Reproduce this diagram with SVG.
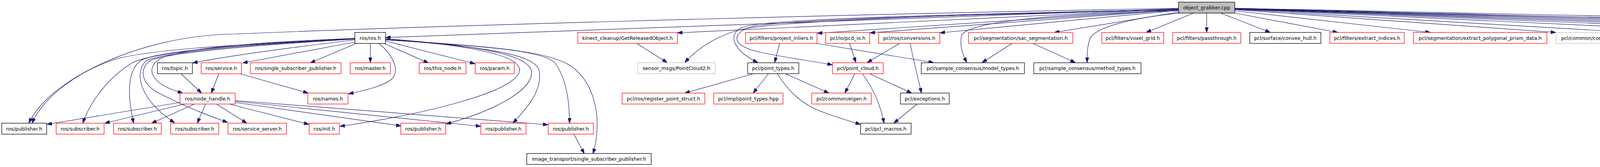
<svg xmlns="http://www.w3.org/2000/svg" width="5885" height="427" viewBox="0 0 5885 427">
<style>
.e{fill:none;stroke:#191970;stroke-width:1.2;marker-end:url(#a)}
.n rect{fill:#ffffff;stroke-width:1.3}
.r rect{stroke:#ff0000}
.k rect{stroke:#000000}
.g rect{stroke:#bfbfbf}
.root rect{fill:#bfbfbf;stroke:#000000}
text{font-family:"DejaVu Sans","Liberation Sans",sans-serif;font-size:12.6px;fill:#000000;text-anchor:middle}
</style>
<defs>
<marker id="a" markerWidth="13" markerHeight="9" refX="13" refY="4.5" orient="auto" markerUnits="userSpaceOnUse"><path d="M0,0 L13,4.5 L0,9 z" fill="#191970" stroke="#191970" stroke-width="1"/></marker>
</defs>
<rect x="0" y="0" width="5885" height="427" fill="#ffffff"/>
<g id="edges">
<path class="e" d="M3017,21 C2000,40 1000,70 600,87 C350,90 120,210 74,315"/>
<path class="e" d="M3017,22 L987,96"/>
<path class="e" d="M3017,23 L1734,84"/>
<path class="e" d="M3017,23.5 C2400,38 1950,55 1880,80 C1820,100 1780,130 1753,160"/>
<path class="e" d="M3017,24 C2300,40 1950,50 1900,70 C1865,85 1870,125 1940,160"/>
<path class="e" d="M3017,25 C2300,42 1960,52 1912,72 C1870,92 1880,118 1940,132 C2000,146 2080,156 2131,166"/>
<path class="e" d="M3017,24.2 L2092,85"/>
<path class="e" d="M3017,24.9 L2227,84"/>
<path class="e" d="M3017,26.3 L2406,84"/>
<path class="e" d="M3017,28 C2700,35 2480,55 2462,90 C2455,115 2465,140 2475,160"/>
<path class="e" d="M3017,31.2 L2699,83"/>
<path class="e" d="M3022,33.5 C2900,45 2800,70 2790,100 C2783,120 2783,140 2783,160"/>
<path class="e" d="M3055,33.5 L2934,83"/>
<path class="e" d="M3089,33.5 L3089,83"/>
<path class="e" d="M3125,33.5 L3252,83"/>
<path class="e" d="M3161,33.5 L3425,83"/>
<path class="e" d="M3161,27.5 L3662,83"/>
<path class="e" d="M3161,24.6 L3983,83"/>
<path class="e" d="M3161,23.7 L4180,83"/>
<path class="e" d="M3161,22.8 L4455,83"/>
<path class="e" d="M3161,22.4 L4660,83"/>
<path class="e" d="M3161,22.1 L4841,83"/>
<path class="e" d="M3161,21.9 L5018,83"/>
<path class="e" d="M3161,21.6 L5233,83"/>
<path class="e" d="M3161,21 C4300,45 5250,62 5365,78 C5400,85 5398,125 5372,160"/>
<path class="e" d="M3161,21.4 L5449,83"/>
<path class="e" d="M3161,21.3 L5675,83"/>
<path class="e" d="M909,102 C800,115 600,140 493,161"/>
<path class="e" d="M912,107 L621,161"/>
<path class="e" d="M912,111 L794,161"/>
<path class="e" d="M948,111 L948,160"/>
<path class="e" d="M970,111 C1000,135 1025,175 1005,200 C985,220 930,232 892,240"/>
<path class="e" d="M983,111 L1097,161"/>
<path class="e" d="M987,105 L1216,163"/>
<path class="e" d="M987,99 C1200,115 1320,140 1330,175 C1340,230 1100,290 870,323"/>
<path class="e" d="M987,100 C1220,115 1350,140 1360,180 C1370,230 1260,285 1142,317"/>
<path class="e" d="M987,101 C1250,120 1370,140 1380,180 C1390,230 1350,275 1313,315"/>
<path class="e" d="M987,102 C1250,118 1390,130 1420,160 C1450,200 1458,260 1458,315"/>
<path class="e" d="M987,102 C1300,120 1420,135 1470,175 C1530,225 1540,320 1518,393"/>
<path class="e" d="M908,98 C700,106 470,120 410,150 C370,175 385,215 468,238"/>
<path class="e" d="M908,98 C600,115 400,125 300,150 C200,180 110,250 82,315"/>
<path class="e" d="M908,99 C650,112 400,130 340,160 C280,195 230,260 212,315"/>
<path class="e" d="M908,100 C650,112 400,130 360,155 C320,185 330,260 342,315"/>
<path class="e" d="M908,100 C650,114 420,132 375,155 C345,180 350,250 447,314"/>
<path class="e" d="M908,100 C650,116 430,134 385,155 C355,175 360,215 410,240 C470,270 530,295 583,313"/>
<path class="e" d="M464,189 L516,238"/>
<path class="e" d="M560,189 L541,238"/>
<path class="e" d="M616,189 L789,238"/>
<path class="e" d="M461,262 L120,318"/>
<path class="e" d="M473,266 L268,315"/>
<path class="e" d="M498,266 L388,315"/>
<path class="e" d="M526,266 L505,315"/>
<path class="e" d="M554,266 L632,315"/>
<path class="e" d="M587,266 L791,318"/>
<path class="e" d="M602,262 L1027,322"/>
<path class="e" d="M602,259 L1231,323"/>
<path class="e" d="M602,257 L1403,319"/>
<path class="e" d="M1469,343 L1496,393"/>
<path class="e" d="M1630,111 L1708,160"/>
<path class="e" d="M1996,111 L1983,160"/>
<path class="e" d="M2090,111 L2390,160"/>
<path class="e" d="M2175,111 L2191,160"/>
<path class="e" d="M2303,111 L2220,160"/>
<path class="e" d="M2330,111 C2340,160 2350,200 2359,238"/>
<path class="e" d="M2591,111 L2514,160"/>
<path class="e" d="M2644,111 L2753,160"/>
<path class="e" d="M1927,189 L1753,238"/>
<path class="e" d="M1967,189 L1928,238"/>
<path class="e" d="M2012,189 L2122,238"/>
<path class="e" d="M1990,189 C2020,235 2050,262 2090,280 C2130,297 2170,308 2203,318"/>
<path class="e" d="M2188,189 L2163,238"/>
<path class="e" d="M2208,189 C2235,225 2255,270 2263,315"/>
<path class="e" d="M2227,189 L2334,238"/>
<path class="e" d="M2348,266 L2288,315"/>
<path class="e" d="M5314,111 L5346,160"/>
</g>
<g id="n0" class="n root"><rect x="3017" y="5.5" width="144" height="28"/><text x="3089" y="24">object_grabber.cpp</text></g>
<g id="n1" class="n k"><rect x="908.5" y="83" width="78.5" height="28"/><text x="947.75" y="101.5">ros/ros.h</text></g>
<g id="n2" class="n r"><rect x="1479" y="83" width="255" height="28"/><text x="1606.5" y="101.5">kinect_cleanup/GetReleasedObject.h</text></g>
<g id="n3" class="n r"><rect x="1908.5" y="83" width="183" height="28"/><text x="2000" y="101.5">pcl/filters/project_inliers.h</text></g>
<g id="n4" class="n r"><rect x="2114" y="83" width="112.5" height="28"/><text x="2170.25" y="101.5">pcl/io/pcd_io.h</text></g>
<g id="n5" class="n r"><rect x="2249.5" y="83" width="156.5" height="28"/><text x="2327.75" y="101.5">pcl/ros/conversions.h</text></g>
<g id="n6" class="n r"><rect x="2479.5" y="83" width="267" height="28"/><text x="2613" y="101.5">pcl/segmentation/sac_segmentation.h</text></g>
<g id="n7" class="n r"><rect x="2820.5" y="83" width="158.5" height="28"/><text x="2899.75" y="101.5">pcl/filters/voxel_grid.h</text></g>
<g id="n8" class="n r"><rect x="3002" y="83" width="174.5" height="28"/><text x="3089.25" y="101.5">pcl/filters/passthrough.h</text></g>
<g id="n9" class="n k"><rect x="3199.5" y="83" width="182" height="28"/><text x="3290.5" y="101.5">pcl/surface/convex_hull.h</text></g>
<g id="n10" class="n r"><rect x="3404.5" y="83" width="190.5" height="28"/><text x="3499.75" y="101.5">pcl/filters/extract_indices.h</text></g>
<g id="n11" class="n r"><rect x="3618.5" y="83" width="341.5" height="28"/><text x="3789.25" y="101.5">pcl/segmentation/extract_polygonal_prism_data.h</text></g>
<g id="n12" class="n g"><rect x="3983.5" y="83" width="174.5" height="28"/><text x="4070.75" y="101.5">pcl/common/common.h</text></g>
<g id="n13" class="n r"><rect x="4181" y="83" width="251" height="28"/><text x="4306.5" y="101.5">pcl/segmentation/extract_clusters.h</text></g>
<g id="n14" class="n r"><rect x="4456" y="83" width="181" height="28"/><text x="4546.5" y="101.5">pcl/features/normal_3d.h</text></g>
<g id="n15" class="n r"><rect x="4660" y="83" width="159" height="28"/><text x="4739.5" y="101.5">pcl/common/angles.h</text></g>
<g id="n16" class="n k"><rect x="4841.5" y="83" width="153.5" height="28"/><text x="4918.25" y="101.5">pcl_ros/transforms.h</text></g>
<g id="n17" class="n r"><rect x="5017.5" y="83" width="193.5" height="28"/><text x="5114.25" y="101.5">tf/transform_broadcaster.h</text></g>
<g id="n18" class="n k"><rect x="5233.5" y="83" width="140" height="28"/><text x="5303.5" y="101.5">tf/message_filter.h</text></g>
<g id="n19" class="n r"><rect x="5447" y="83" width="204" height="28"/><text x="5549" y="101.5">kinect_cleanup/FilterObject.h</text></g>
<g id="n20" class="n r"><rect x="5674.5" y="83" width="205.5" height="28"/><text x="5777.25" y="101.5">kinect_cleanup/GrabObject.h</text></g>
<g id="n21" class="n k"><rect x="403" y="160.5" width="89.5" height="28"/><text x="447.75" y="179">ros/topic.h</text></g>
<g id="n22" class="n r"><rect x="515" y="160.5" width="103" height="28"/><text x="566.5" y="179">ros/service.h</text></g>
<g id="n23" class="n r"><rect x="641" y="160.5" width="232" height="28"/><text x="757" y="179">ros/single_subscriber_publisher.h</text></g>
<g id="n24" class="n r"><rect x="896.5" y="160.5" width="103" height="28"/><text x="948" y="179">ros/master.h</text></g>
<g id="n25" class="n r"><rect x="1073" y="160.5" width="120" height="28"/><text x="1133" y="179">ros/this_node.h</text></g>
<g id="n26" class="n r"><rect x="1216.5" y="160.5" width="100" height="28"/><text x="1266.5" y="179">ros/param.h</text></g>
<g id="n27" class="n g"><rect x="1632.5" y="160.5" width="198.5" height="28"/><text x="1731.75" y="179">sensor_msgs/PointCloud2.h</text></g>
<g id="n28" class="n k"><rect x="1914" y="160.5" width="131" height="28"/><text x="1979.5" y="179">pcl/point_types.h</text></g>
<g id="n29" class="n r"><rect x="2131" y="160.5" width="130" height="28"/><text x="2196" y="179">pcl/point_cloud.h</text></g>
<g id="n30" class="n k"><rect x="2358.5" y="160.5" width="264" height="28"/><text x="2490.5" y="179">pcl/sample_consensus/model_types.h</text></g>
<g id="n31" class="n k"><rect x="2646.5" y="160.5" width="274.5" height="28"/><text x="2783.75" y="179">pcl/sample_consensus/method_types.h</text></g>
<g id="n32" class="n r"><rect x="5275.5" y="160.5" width="163" height="28"/><text x="5357" y="179">tf/transform_listener.h</text></g>
<g id="n33" class="n r"><rect x="461" y="238" width="141" height="28"/><text x="531.5" y="256.5">ros/node_handle.h</text></g>
<g id="n34" class="n r"><rect x="788" y="238" width="103" height="28"/><text x="839.5" y="256.5">ros/names.h</text></g>
<g id="n35" class="n r"><rect x="1592.5" y="238" width="212" height="28"/><text x="1698.5" y="256.5">pcl/ros/register_point_struct.h</text></g>
<g id="n36" class="n r"><rect x="1827" y="238" width="177.5" height="28"/><text x="1915.75" y="256.5">pcl/impl/point_types.hpp</text></g>
<g id="n37" class="n r"><rect x="2078" y="238" width="152.5" height="28"/><text x="2154.25" y="256.5">pcl/common/eigen.h</text></g>
<g id="n38" class="n k"><rect x="2305" y="238" width="125" height="28"/><text x="2367.5" y="256.5">pcl/exceptions.h</text></g>
<g id="n39" class="n k"><rect x="4.5" y="315" width="115" height="28"/><text x="62" y="333.5">ros/publisher.h</text></g>
<g id="n40" class="n r"><rect x="143.75" y="315" width="122.75" height="28"/><text x="205.1" y="333.5">ros/subscriber.h</text></g>
<g id="n41" class="n r"><rect x="290.5" y="315" width="122.5" height="28"/><text x="351.75" y="333.5">ros/subscriber.h</text></g>
<g id="n42" class="n r"><rect x="437" y="315" width="123" height="28"/><text x="498.5" y="333.5">ros/subscriber.h</text></g>
<g id="n43" class="n r"><rect x="583.5" y="315" width="150" height="28"/><text x="658.5" y="333.5">ros/service_server.h</text></g>
<g id="n44" class="n r"><rect x="791.5" y="315" width="77.5" height="28"/><text x="830.25" y="333.5">ros/init.h</text></g>
<g id="n45" class="n r"><rect x="1026" y="315" width="115" height="28"/><text x="1083.5" y="333.5">ros/publisher.h</text></g>
<g id="n46" class="n r"><rect x="1231" y="315" width="115.5" height="28"/><text x="1288.75" y="333.5">ros/publisher.h</text></g>
<g id="n47" class="n r"><rect x="1403.5" y="315" width="115.5" height="28"/><text x="1461.25" y="333.5">ros/publisher.h</text></g>
<g id="n48" class="n k"><rect x="2203" y="315" width="129.5" height="28"/><text x="2267.75" y="333.5">pcl/pcl_macros.h</text></g>
<g id="n49" class="n k"><rect x="1348.5" y="392.5" width="318.5" height="28"/><text x="1507.75" y="411">image_transport/single_subscriber_publisher.h</text></g>
</svg>
